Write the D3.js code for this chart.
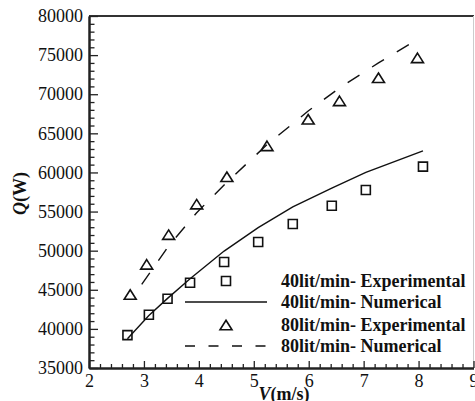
<!DOCTYPE html>
<html>
<head>
<meta charset="utf-8">
<script src="https://cdn.jsdelivr.net/npm/d3@7"></script>
<style>
  body { margin: 0; background: #fff; }
</style>
</head>
<body>
<div id="chart"></div>
<script>
// data
var v40exp = [2.70, 3.09, 3.43, 3.84, 4.46, 5.08, 5.71, 6.42, 7.04, 8.08];
var q40exp = [39200, 41800, 43850, 45900, 48550, 51100, 53400, 55750, 57750, 60750];
var v40num = [2.70, 3.09, 3.43, 3.84, 4.46, 5.08, 5.71, 6.42, 7.04, 8.08];
var q40num = [38750, 41700, 43900, 46400, 49950, 52950, 55600, 58000, 60000, 62750];
var v80exp = [2.75, 3.05, 3.45, 3.96, 4.51, 5.24, 5.99, 6.56, 7.27, 7.98];
var q80exp = [44400, 48250, 52050, 55950, 59450, 63400, 66800, 69150, 72100, 74650];
var v80num = [2.96, 3.45, 3.96, 4.51, 5.24, 5.99, 6.56, 7.27, 7.98];
var q80num = [45700, 50600, 54850, 58750, 63550, 67850, 70800, 74000, 77000];

var xTicks = [2, 3, 4, 5, 6, 7, 8, 9];
var yTicks = [35000, 40000, 45000, 50000, 55000, 60000, 65000, 70000, 75000, 80000];
var legendLabels = ["40lit/min- Experimental", "40lit/min- Numerical", "80lit/min- Experimental", "80lit/min- Numerical"];

var serif = "'Liberation Serif', Tinos, 'Times New Roman', 'DejaVu Serif', serif";

var margin = {top: 16, right: 1, bottom: 33, left: 89},
  width = 475 - margin.left - margin.right,
  height = 401 - margin.top - margin.bottom;

var svg = d3.select("#chart")
  .append("svg")
  .attr("width", 475)
  .attr("height", 401)
  .append("g")
  .attr("transform", "translate(" + margin.left + "," + margin.top + ")");

var x = d3.scaleLinear().domain([2, 9]).range([0, width - 0.5]);
var y = d3.scaleLinear().domain([35000, 80000]).range([height, 0]);

// frame: top and right
svg.append("line").attr("x1", 0).attr("x2", width).attr("y1", 0).attr("y2", 0)
  .style("stroke", "#333").style("stroke-width", 2);
svg.append("line").attr("x1", width - 0.5).attr("x2", width - 0.5).attr("y1", 0).attr("y2", height)
  .style("stroke", "#ccc").style("stroke-width", 1);

// minor ticks
var minorX = d3.range(2, 9.001, 0.2).filter(function(d) { return Math.abs(d - Math.round(d)) > 0.01; });
var minorY = d3.range(35000, 80001, 1000).filter(function(d) { return d % 5000 != 0; });

svg.append("g")
  .attr("transform", "translate(0," + height + ")")
  .call(d3.axisBottom(x).tickValues(minorX).tickSizeInner(-4).tickSizeOuter(0).tickFormat(""));
svg.append("g")
  .call(d3.axisLeft(y).tickValues(minorY).tickSizeInner(-5.5).tickSizeOuter(0).tickFormat(""));

// major axes
var xAxis = svg.append("g")
  .attr("transform", "translate(0," + height + ")")
  .call(d3.axisBottom(x).tickValues(xTicks).tickSizeInner(-7).tickSizeOuter(0).tickPadding(6).tickFormat(d3.format("d")));
var yAxis = svg.append("g")
  .call(d3.axisLeft(y).tickValues(yTicks).tickSizeInner(-9).tickSizeOuter(0).tickPadding(6).tickFormat(d3.format("d")));

svg.selectAll(".domain").style("stroke", "#222").style("stroke-width", 2);
svg.selectAll(".tick line").style("stroke", "#222").style("stroke-width", 1.3);
xAxis.selectAll("text").style("font-family", serif).style("font-size", "18px").style("fill", "#111").attr("dy", "0.7em");
yAxis.selectAll("text").style("font-family", serif).style("font-size", "18px").style("fill", "#111");

// axis titles
var xt = svg.append("text")
  .attr("x", x(5.55))
  .attr("y", height + 32)
  .attr("text-anchor", "middle")
  .style("font-family", serif)
  .style("font-size", "18px")
  .style("font-weight", "bold")
  .style("fill", "#111");
xt.append("tspan").style("font-style", "italic").text("V");
xt.append("tspan").text("(m/s)");

var yt = svg.append("text")
  .attr("transform", "translate(" + (-63) + "," + y(57300) + ") rotate(-90)")
  .attr("text-anchor", "middle")
  .style("font-family", serif)
  .style("font-size", "18px")
  .style("font-weight", "bold")
  .style("fill", "#111");
yt.append("tspan").style("font-style", "italic").text("Q");
yt.append("tspan").text("(W)");

// lines
var line = d3.line()
  .x(function(d) { return x(d[0]); })
  .y(function(d) { return y(d[1]); });

svg.append("path")
  .datum(d3.zip(v40num, q40num))
  .attr("d", line)
  .style("fill", "none")
  .style("stroke", "#111")
  .style("stroke-width", 1.4);

svg.append("path")
  .datum(d3.zip(v80num, q80num))
  .attr("d", line)
  .style("fill", "none")
  .style("stroke", "#111")
  .style("stroke-width", 1.4)
  .style("stroke-dasharray", "14,15");

// markers
function square(s) {
  return "M" + (-s) + "," + (-s) + "H" + s + "V" + s + "H" + (-s) + "Z";
}
function triangle(w, h) {
  return "M0," + (-h / 2) + "L" + (w / 2) + "," + (h / 2) + "L" + (-w / 2) + "," + (h / 2) + "Z";
}

svg.selectAll(".sq")
  .data(d3.zip(v40exp, q40exp))
  .enter().append("path")
  .attr("class", "sq")
  .attr("transform", function(d) { return "translate(" + x(d[0]) + "," + y(d[1]) + ")"; })
  .attr("d", square(4.5))
  .style("fill", "none").style("stroke", "#111").style("stroke-width", 1.6);

svg.selectAll(".tri")
  .data(d3.zip(v80exp, q80exp))
  .enter().append("path")
  .attr("class", "tri")
  .attr("transform", function(d) { return "translate(" + x(d[0]) + "," + y(d[1]) + ")"; })
  .attr("d", triangle(12, 9.5))
  .style("fill", "none").style("stroke", "#111").style("stroke-width", 1.6);

// legend
var legend = svg.append("g").attr("transform", "translate(" + (185 - margin.left) + "," + (281 - margin.top) + ")");
var rowY = [0, 21, 44, 65];

legend.append("path").attr("transform", "translate(41," + rowY[0] + ")").attr("d", square(4.5))
  .style("fill", "none").style("stroke", "#111").style("stroke-width", 1.6);
legend.append("line").attr("x1", 0).attr("x2", 82).attr("y1", rowY[1]).attr("y2", rowY[1])
  .style("stroke", "#111").style("stroke-width", 1.4);
legend.append("path").attr("transform", "translate(41," + rowY[2] + ")").attr("d", triangle(12, 9.5))
  .style("fill", "none").style("stroke", "#111").style("stroke-width", 1.6);
legend.append("line").attr("x1", 0).attr("x2", 82).attr("y1", rowY[3]).attr("y2", rowY[3])
  .style("stroke", "#111").style("stroke-width", 1.4).style("stroke-dasharray", "10,13.5");

legend.selectAll(".lab")
  .data(legendLabels)
  .enter().append("text")
  .attr("class", "lab")
  .attr("x", 96)
  .attr("y", function(d, i) { return rowY[i]; })
  .attr("dy", "0.35em")
  .style("font-family", serif)
  .style("font-size", "18px")
  .style("font-weight", "bold")
  .style("fill", "#111")
  .text(function(d) { return d; });
</script>
</body>
</html>
